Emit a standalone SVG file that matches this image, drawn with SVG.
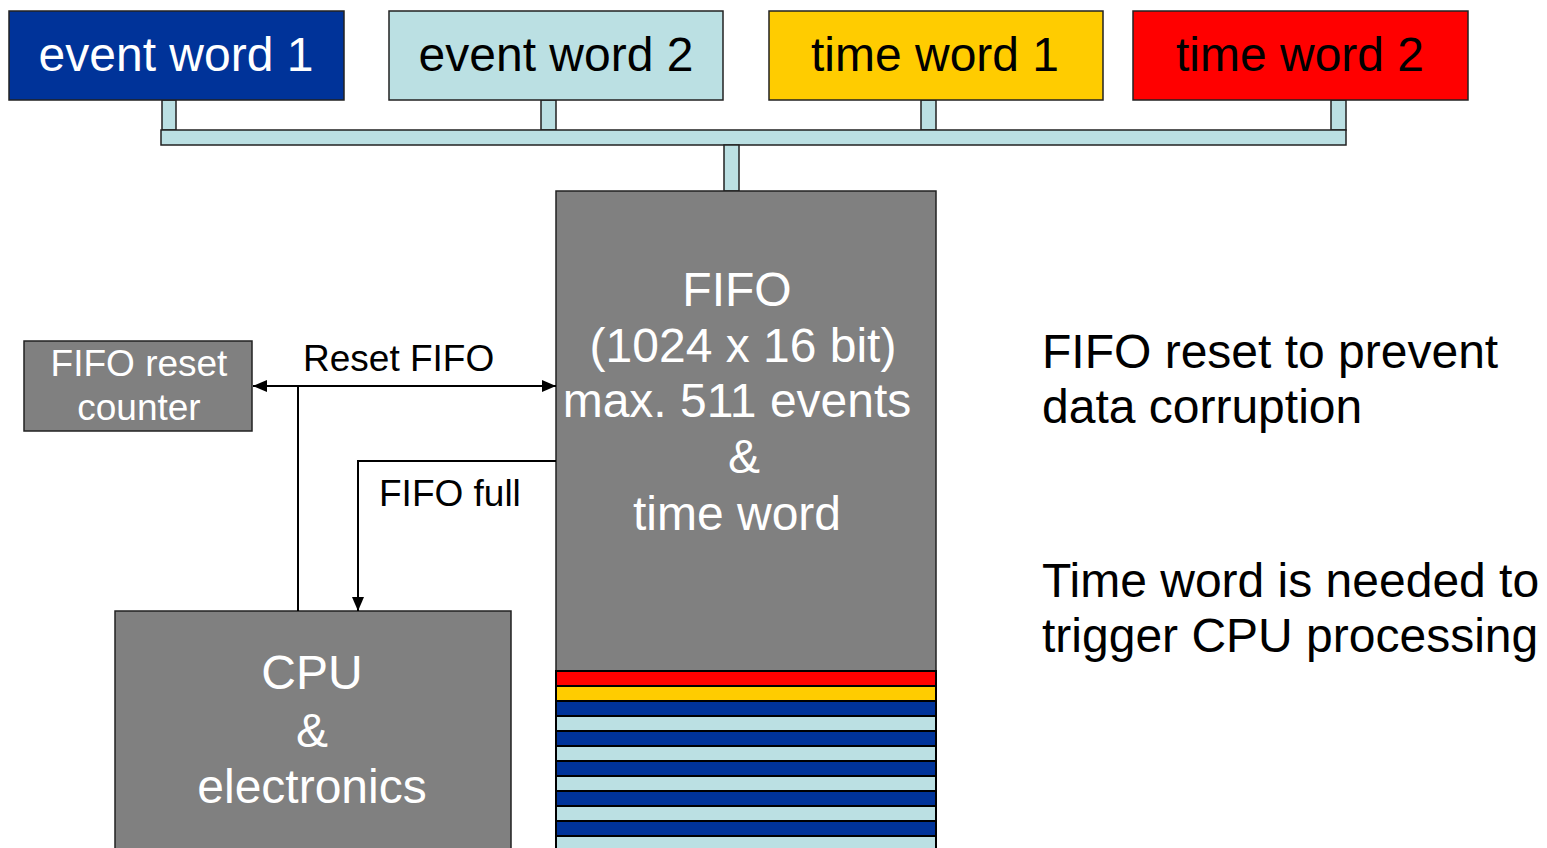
<svg xmlns="http://www.w3.org/2000/svg" width="1547" height="848" viewBox="0 0 1547 848">
<style>
text{font-family:"Liberation Sans",Arial,sans-serif}
.box{stroke:#222;stroke-width:1.5}
.big{font-size:48px;text-anchor:middle}
.fifo{font-size:48px;text-anchor:middle;fill:#fff}
.lbl{font-size:37px;fill:#000}
.note{font-size:48px;fill:#000}
.wire{stroke:#000;stroke-width:2;fill:none}
.bus{fill:#BBE0E3;stroke:#222;stroke-width:1.5}
.stripe{stroke:#000;stroke-width:2}
</style>
<defs>
<marker id="ah" viewBox="0 0 14 12" refX="14" refY="6" markerWidth="14" markerHeight="12" markerUnits="userSpaceOnUse" orient="auto-start-reverse">
<path d="M0,0 L14,6 L0,12 Z" fill="#000"/>
</marker>
</defs>
<rect width="1547" height="848" fill="#fff"/>
<g id="bus">
<rect class="bus" x="162" y="100" width="14" height="30"/>
<rect class="bus" x="541" y="100" width="15" height="30"/>
<rect class="bus" x="921" y="100" width="15" height="30"/>
<rect class="bus" x="1331" y="100" width="15" height="30"/>
<rect class="bus" x="161" y="130" width="1185" height="15"/>
<rect class="bus" x="724" y="145" width="15" height="46"/>
</g>
<g id="event-word-1">
<rect class="box" x="9" y="11" width="335" height="89" fill="#003399"/>
<text class="big" x="176" y="71" fill="#fff">event word 1</text>
</g>
<g id="event-word-2">
<rect class="box" x="389" y="11" width="334" height="89" fill="#BBE0E3"/>
<text class="big" x="556" y="71" fill="#000">event word 2</text>
</g>
<g id="time-word-1">
<rect class="box" x="769" y="11" width="334" height="89" fill="#FFCC00"/>
<text class="big" x="935" y="71" fill="#000">time word 1</text>
</g>
<g id="time-word-2">
<rect class="box" x="1133" y="11" width="335" height="89" fill="#FF0000"/>
<text class="big" x="1300" y="71" fill="#000">time word 2</text>
</g>
<g id="fifo">
<rect class="box" x="556" y="191" width="380" height="670" fill="#808080"/>
<rect class="stripe" x="556" y="671" width="380" height="15" fill="#FF0000"/>
<rect class="stripe" x="556" y="686" width="380" height="15" fill="#FFCC00"/>
<rect class="stripe" x="556" y="701" width="380" height="15" fill="#003399"/>
<rect class="stripe" x="556" y="716" width="380" height="15" fill="#BBE0E3"/>
<rect class="stripe" x="556" y="731" width="380" height="15" fill="#003399"/>
<rect class="stripe" x="556" y="746" width="380" height="15" fill="#BBE0E3"/>
<rect class="stripe" x="556" y="761" width="380" height="15" fill="#003399"/>
<rect class="stripe" x="556" y="776" width="380" height="15" fill="#BBE0E3"/>
<rect class="stripe" x="556" y="791" width="380" height="15" fill="#003399"/>
<rect class="stripe" x="556" y="806" width="380" height="15" fill="#BBE0E3"/>
<rect class="stripe" x="556" y="821" width="380" height="15" fill="#003399"/>
<rect class="stripe" x="556" y="836" width="380" height="20" fill="#BBE0E3"/>
<text class="fifo" x="737" y="306">FIFO</text>
<text class="fifo" x="743" y="362">(1024 x 16 bit)</text>
<text class="fifo" x="737" y="417">max. 511 events</text>
<text class="fifo" x="744" y="473">&amp;</text>
<text class="fifo" x="737" y="530">time word</text>
</g>
<g id="fifo-reset-counter">
<rect class="box" x="24" y="341" width="228" height="90" fill="#808080"/>
<text x="139" y="376" font-size="37" fill="#fff" text-anchor="middle">FIFO reset</text>
<text x="139" y="420" font-size="37" fill="#fff" text-anchor="middle">counter</text>
</g>
<g id="cpu">
<rect class="box" x="115" y="611" width="396" height="250" fill="#808080"/>
<text class="fifo" x="312" y="689">CPU</text>
<text class="fifo" x="312" y="747">&amp;</text>
<text class="fifo" x="312" y="803">electronics</text>
</g>
<g id="connectors">
<line class="wire" x1="253" y1="386" x2="556" y2="386" marker-start="url(#ah)" marker-end="url(#ah)"/>
<line class="wire" x1="298" y1="386" x2="298" y2="611"/>
<path class="wire" d="M556 461 H358 V611" marker-end="url(#ah)"/>
<text class="lbl" x="303" y="371">Reset FIFO</text>
<text class="lbl" x="379" y="506">FIFO full</text>
</g>
<g id="notes">
<text class="note" x="1042" y="368">FIFO reset to prevent</text>
<text class="note" x="1042" y="423">data corruption</text>
<text class="note" x="1042" y="597">Time word is needed to</text>
<text class="note" x="1042" y="652">trigger CPU processing</text>
</g>
</svg>
